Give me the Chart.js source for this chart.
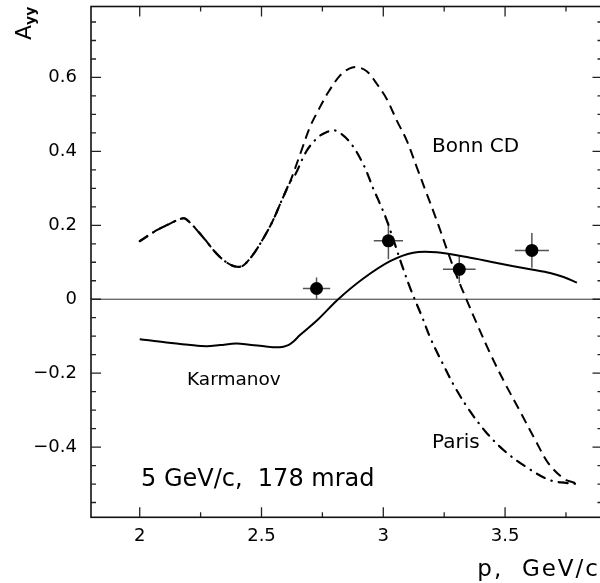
<!DOCTYPE html>
<html>
<head>
<meta charset="utf-8">
<script src="https://cdn.jsdelivr.net/npm/chart.js@4.4.1/dist/chart.umd.min.js"></script>
<style>
  html, body { margin: 0; padding: 0; background: #fff; overflow: hidden; }
  canvas { display: block; }
</style>
</head>
<body>
<canvas id="ayyChart" width="609" height="583"></canvas>
<script>
// axis ticks
var xTicks = [2, 2.5, 3, 3.5];
var yTicks = [-0.4, -0.2, 0, 0.2, 0.4, 0.6];

// Karmanov (solid)
var karmanovP = [2.0, 2.11, 2.2, 2.274, 2.33, 2.397, 2.45, 2.493, 2.575, 2.61, 2.63, 2.658, 2.733, 2.815, 2.918, 3.028, 3.123, 3.219, 3.343, 3.466, 3.603, 3.685, 3.74, 3.795];
var karmanovA = [-0.108, -0.117, -0.123, -0.127, -0.124, -0.120, -0.123, -0.126, -0.130, -0.124, -0.115, -0.097, -0.054, 0.0, 0.056, 0.103, 0.126, 0.127, 0.114, 0.098, 0.081, 0.071, 0.060, 0.045];

// Bonn CD (dashed)
var bonnP = [2.0, 2.068, 2.11, 2.171, 2.19, 2.247, 2.322, 2.377, 2.418, 2.45, 2.486, 2.541, 2.586, 2.617, 2.66, 2.699, 2.733, 2.774, 2.822, 2.86, 2.891, 2.932, 2.973, 3.014, 3.055, 3.096, 3.137, 3.178, 3.219, 3.267, 3.3, 3.343, 3.384, 3.439, 3.5, 3.562, 3.624, 3.678, 3.74, 3.781, 3.8];
var bonnA = [0.157, 0.186, 0.200, 0.218, 0.217, 0.178, 0.119, 0.092, 0.089, 0.108, 0.141, 0.205, 0.272, 0.317, 0.395, 0.466, 0.511, 0.560, 0.605, 0.624, 0.628, 0.617, 0.583, 0.542, 0.484, 0.430, 0.358, 0.286, 0.214, 0.124, 0.065, -0.003, -0.066, -0.147, -0.228, -0.304, -0.381, -0.444, -0.485, -0.496, -0.500];

// Paris (dash-dot)
var parisP = [2.0, 2.068, 2.11, 2.171, 2.19, 2.247, 2.322, 2.377, 2.418, 2.45, 2.486, 2.541, 2.586, 2.617, 2.637, 2.685, 2.73, 2.764, 2.801, 2.859, 2.918, 2.959, 2.98, 3.014, 3.075, 3.114, 3.155, 3.196, 3.244, 3.295, 3.353, 3.421, 3.497, 3.585, 3.682, 3.75, 3.8];
var parisA = [0.157, 0.186, 0.200, 0.218, 0.217, 0.178, 0.119, 0.092, 0.089, 0.108, 0.141, 0.205, 0.272, 0.317, 0.335, 0.401, 0.437, 0.451, 0.457, 0.428, 0.365, 0.299, 0.268, 0.214, 0.095, 0.024, -0.041, -0.109, -0.174, -0.239, -0.300, -0.359, -0.410, -0.453, -0.489, -0.497, -0.500];

// measured points with errors
var dataP = [2.726, 3.021, 3.312, 3.61];
var dataA = [0.029, 0.158, 0.081, 0.132];
var errP = [0.056, 0.060, 0.067, 0.070];
var errA = [0.030, 0.050, 0.037, 0.047];

function pts(xs, ys) {
    return xs.map(function (x, i) { return { x: x, y: ys[i] }; });
}

function fmt(v) {
    if (Math.abs(v) < 1e-9) return '0';
    return (v < 0 ? '\u2212' : '') + String(Math.abs(Math.round(v * 100) / 100));
}

function noPad(s) {
    s.paddingTop = 0; s.paddingBottom = 0;
    s.paddingLeft = 0; s.paddingRight = 0;
}

var TICK_FONT = { family: 'DejaVu Sans', size: 18 };

var framePlugin = {
    id: 'frame',
    beforeDatasetsDraw: function (chart) {
        var ctx = chart.ctx, a = chart.chartArea;
        var xs = chart.scales.x, ys = chart.scales.y;
        ctx.save();
        // zero line
        var y0 = ys.getPixelForValue(0);
        ctx.strokeStyle = '#333';
        ctx.lineWidth = 1;
        ctx.beginPath();
        ctx.moveTo(a.left, y0);
        ctx.lineTo(a.right, y0);
        ctx.stroke();
        // error bars
        ctx.strokeStyle = '#555';
        ctx.lineWidth = 1.5;
        dataP.forEach(function (p, i) {
            var cx = xs.getPixelForValue(p), cy = ys.getPixelForValue(dataA[i]);
            ctx.beginPath();
            ctx.moveTo(xs.getPixelForValue(p - errP[i]), cy);
            ctx.lineTo(xs.getPixelForValue(p + errP[i]), cy);
            ctx.moveTo(cx, ys.getPixelForValue(dataA[i] - errA[i]));
            ctx.lineTo(cx, ys.getPixelForValue(dataA[i] + errA[i]));
            ctx.stroke();
        });
        ctx.restore();
    },
    afterDraw: function (chart) {
        var ctx = chart.ctx, a = chart.chartArea;
        var xs = chart.scales.x, ys = chart.scales.y;
        ctx.save();
        // frame
        ctx.strokeStyle = '#111';
        ctx.lineWidth = 1.6;
        ctx.strokeRect(a.left, a.top, a.right - a.left, a.bottom - a.top);

        // inward ticks on all four sides
        ctx.lineWidth = 1.3;
        ctx.strokeStyle = '#222';
        ctx.beginPath();
        var v, px, len;
        for (v = 2.0; v < xs.max + 1e-6; v += 0.25) {
            px = xs.getPixelForValue(v);
            len = xTicks.some(function (t) { return Math.abs(t - v) < 1e-6; }) ? 10 : 5;
            ctx.moveTo(px, a.bottom); ctx.lineTo(px, a.bottom - len);
            ctx.moveTo(px, a.top); ctx.lineTo(px, a.top + len);
        }
        for (v = -0.55; v < ys.max + 1e-6; v += 0.05) {
            px = ys.getPixelForValue(v);
            len = yTicks.some(function (t) { return Math.abs(t - v) < 1e-6; }) ? 10 : 5;
            ctx.moveTo(a.left, px); ctx.lineTo(a.left + len, px);
            ctx.moveTo(a.right, px); ctx.lineTo(a.right - len, px);
        }
        ctx.stroke();

        // labels
        ctx.fillStyle = '#000';
        ctx.textAlign = 'left';
        ctx.textBaseline = 'alphabetic';
        ctx.font = '20px "DejaVu Sans"';
        ctx.fillText('Bonn CD', 432, 152);
        ctx.fillText('Paris', 432, 447.5);
        ctx.font = '18.5px "DejaVu Sans"';
        ctx.fillText('Karmanov', 187, 385);
        ctx.font = '24px "DejaVu Sans"';
        ctx.fillText('5 GeV/c,  178 mrad', 141, 486);

        // x title
        ctx.font = '23px "DejaVu Sans"';
        ctx.textAlign = 'right';
        ctx.letterSpacing = '2px';
        ctx.fillText('p,  GeV/c', 600, 576);
        ctx.letterSpacing = '0px';

        // y title A_yy (rotated)
        ctx.save();
        ctx.translate(31, 40);
        ctx.rotate(-Math.PI / 2);
        ctx.textAlign = 'left';
        ctx.font = '22px "DejaVu Sans"';
        ctx.fillText('A', 0, 0);
        ctx.font = 'bold 14px "DejaVu Sans"';
        ctx.fillText('yy', 15, 4);
        ctx.restore();

        ctx.restore();
    }
};

document.addEventListener('DOMContentLoaded', function () {
    var ctx = document.getElementById('ayyChart').getContext('2d');

    var ayyChart = new Chart(ctx, {
        type: 'line',
        data: {
            datasets: [
                {
                    label: 'data',
                    type: 'scatter',
                    data: pts(dataP, dataA),
                    pointRadius: 6.5,
                    pointBackgroundColor: '#000',
                    pointBorderWidth: 0,
                    showLine: false
                },
                {
                    label: 'Karmanov',
                    data: pts(karmanovP, karmanovA),
                    borderColor: '#000',
                    borderWidth: 2,
                    pointRadius: 0,
                    tension: 0.35,
                    fill: false
                },
                {
                    label: 'Bonn CD',
                    data: pts(bonnP, bonnA),
                    borderColor: '#000',
                    borderWidth: 2,
                    borderDash: [10, 6],
                    pointRadius: 0,
                    tension: 0.35,
                    fill: false
                },
                {
                    label: 'Paris',
                    data: pts(parisP, parisA),
                    borderColor: '#000',
                    borderWidth: 2.2,
                    borderDash: [9, 7, 0.5, 7],
                    borderCapStyle: 'round',
                    pointRadius: 0,
                    tension: 0.35,
                    fill: false
                }
            ]
        },
        options: {
            responsive: false,
            animation: false,
            layout: { padding: { top: 6.3, right: 2, left: 0, bottom: 0 } },
            plugins: {
                legend: { display: false },
                tooltip: { enabled: false }
            },
            scales: {
                x: {
                    type: 'linear',
                    min: 1.8,
                    max: 3.9,
                    grid: { display: false, drawTicks: false },
                    border: { display: false },
                    afterBuildTicks: function (s) { s.ticks = xTicks.map(function (v) { return { value: v }; }); },
                    afterFit: function (s) { s.height = 583 - 517.3; noPad(s); },
                    ticks: {
                        padding: 8,
                        color: '#000',
                        font: TICK_FONT,
                        maxRotation: 0,
                        autoSkip: false,
                        callback: function (value) { return fmt(value); }
                    }
                },
                y: {
                    type: 'linear',
                    min: -0.59,
                    max: 0.792,
                    grid: { display: false, drawTicks: false },
                    border: { display: false },
                    afterBuildTicks: function (s) { s.ticks = yTicks.map(function (v) { return { value: v }; }); },
                    afterFit: function (s) { s.width = 91; noPad(s); },
                    ticks: {
                        padding: 14,
                        color: '#000',
                        font: TICK_FONT,
                        autoSkip: false,
                        callback: function (value) { return fmt(value); }
                    }
                }
            }
        },
        plugins: [framePlugin]
    });
});
</script>
</body>
</html>
